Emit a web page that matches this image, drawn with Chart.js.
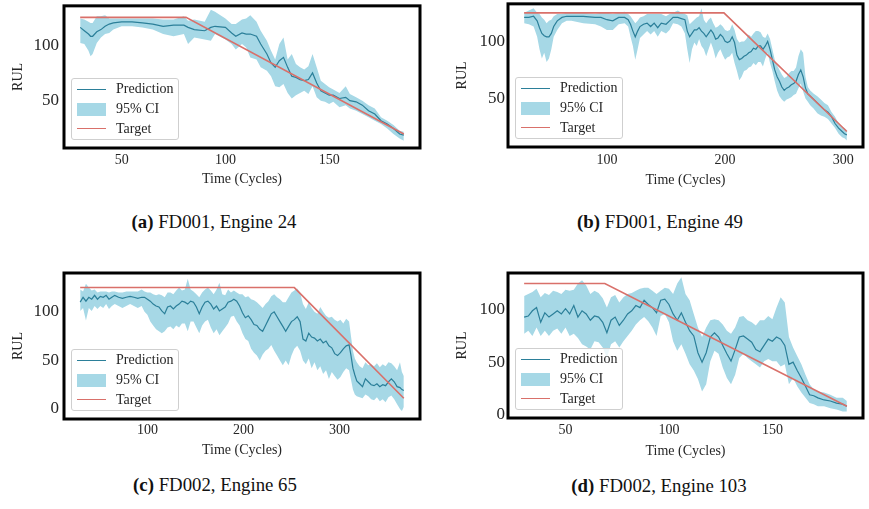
<!DOCTYPE html>
<html>
<head>
<meta charset="utf-8">
<script src="https://cdn.jsdelivr.net/npm/chart.js@4.4.1/dist/chart.umd.min.js"></script>
<style>
  html, body { margin: 0; padding: 0; background: #fff; }
  body { width: 869px; height: 509px; position: relative; overflow: hidden;
         font-family: 'Liberation Serif', 'Times New Roman', serif; color: #222; }
  .panel { position: absolute; }
  .panel canvas { position: absolute; left: 0; top: 0; }
  .caption { position: absolute; font-size: 18.8px; white-space: nowrap;
             transform: translate(-50%, -50%); color: #111; }
  .legend { position: absolute; box-sizing: border-box; width: 108px; height: 62px;
            border: 1px solid #cfcfcf; border-radius: 3px; background: rgba(255,255,255,0.8);
            font-size: 14px; color: #262626; }
  .legend .sw { position: absolute; left: 5px; width: 29px; }
  .legend .lt { position: absolute; left: 44px; line-height: 16px; white-space: nowrap; }
</style>
</head>
<body>
<script>
// ---------------- data ----------------
// (a) FD001, Engine 24
const a_t    = [30,32,34,35,36,38,40,42,44,46,50,55,60,65,70,75,80,82,85,90,93,95,100,103,105,108,110,112,115,117,120,122,124,126,128,130,132,134,136,138,140,142,144,146,148,150,152,155,158,160,163,166,169,172,175,178,181,184,186];
const a_pred = [116,113,110,108,108,112,114,117,119,120,121,121,120,119,117,118,118,116,114,113,116,117,116,111,108,111,110,110,108,101,92,84,80,86,89,80,72,71,69,68,69,75,66,59,57,55,55,52,53,50,49,46,41,38,32,29,25,20,19];
const a_hi   = [124,123,121,120,120,126,126,127,124,124,124,124,124,124,123,123,126,122,123,121,132,130,124,119,119,123,124,127,121,113,104,95,87,101,107,87,92,83,80,78,81,92,80,68,65,62,60,57,63,56,53,50,46,43,35,32,28,23,22];
const a_lo   = [102,101,95,90,92,102,107,110,111,114,117,117,116,114,110,108,110,101,107,105,104,110,105,101,96,101,98,89,87,80,77,72,63,62,65,57,52,55,57,59,56,63,53,50,49,47,49,44,46,43,41,38,35,32,29,25,20,16,14];
const a_targetT = [30, 81, 186];
const a_target  = [125, 125, 20];
const a_xTicks = [50, 100, 150];
const a_yTicks = [50, 100];

// (b) FD001, Engine 49
const b_t    = [30,34,38,41,43,45,47,49,51,53,55,58,62,66,70,80,90,95,100,105,110,115,118,120,122,124,126,128,131,134,137,140,143,146,150,153,156,160,163,166,168,170,172,174,176,178,180,182,184,186,188,190,192,194,196,198,200,202,204,206,208,210,212,214,216,218,220,222,224,226,228,230,232,234,236,238,240,242,244,246,248,250,252,254,256,258,260,262,264,266,268,270,272,275,278,281,284,287,290,293,296,299,301,303];
const b_pred = [121,121,122,118,112,107,105,104,104,107,113,118,121,122,122,122,121,121,119,118,121,121,119,115,109,104,109,113,115,116,113,116,112,116,115,118,121,121,120,119,109,104,107,110,110,112,109,107,104,107,110,107,102,103,106,104,100,99,100,104,99,88,84,85,87,88,90,91,94,93,96,96,93,96,100,93,84,75,69,65,60,57,59,60,62,63,65,71,75,69,59,54,52,49,46,43,40,38,34,28,24,21,19,18];
const b_hi   = [125,127,129,125,124,121,119,116,118,119,122,124,124,125,125,125,124,125,125,124,125,126,124,122,119,116,118,121,122,124,124,124,124,124,122,124,125,127,125,124,123,115,117,119,121,122,129,119,116,119,121,116,112,113,115,113,110,109,110,115,110,102,99,100,100,102,106,104,107,109,109,108,104,103,107,102,93,84,79,75,71,68,69,72,74,74,77,87,93,90,69,60,57,54,52,49,46,44,38,34,28,25,24,22];
const b_lo   = [116,115,113,104,93,85,90,82,85,93,104,110,116,118,118,116,115,113,110,110,115,116,113,104,96,84,93,103,106,109,106,109,104,109,107,110,116,115,113,107,93,81,93,99,96,102,96,93,87,93,99,93,85,90,93,88,84,86,87,90,81,74,66,69,74,75,77,78,81,79,82,82,78,85,90,81,74,65,57,52,49,47,49,50,51,53,54,59,63,56,50,47,44,41,37,35,34,32,28,24,19,16,15,13];
const b_targetT = [30, 199, 303];
const b_target  = [125, 125, 21];
const b_xTicks = [100, 200, 300];
const b_yTicks = [50, 100];

// (c) FD002, Engine 65
const c_t    = [30,33,36,39,42,45,48,51,54,57,60,63,66,70,74,78,82,86,90,94,97,100,103,106,109,112,115,118,121,124,127,130,133,136,139,142,145,148,151,154,157,160,163,166,169,172,175,178,181,184,187,190,193,196,199,202,205,208,211,214,217,220,223,226,229,232,235,238,241,244,247,250,253,256,259,262,265,268,271,274,277,280,283,286,289,292,295,298,301,304,307,310,312,314,316,318,321,324,327,330,333,336,339,342,345,348,351,354,357,360,363,365,367];
const c_pred = [110,115,111,115,113,117,113,116,115,117, 113,115,117,115,114,115,116,115,114,115, 115,113,111,108,106,105,101,98,105,106, 103,106,108,111,110,108,111,110,105,98, 105,110,111,108,103,106,101,103,105,110, 111,113,111,106,99,94,96,92,87,86, 82,80,86,92,98,100,95,90,85,80, 85,90,92,95,90,72,70,78,74,73, 70,72,68,70,65,63,57,55,58,62, 65,66,55,42,35,29,26,23,31,28, 25,24,26,23,25,24,28,31,28,23, 22,20,19];
const c_hi   = [123,121,129,125,122,123,120,121,121,121, 120,121,121,120,120,121,121,121,121,123, 121,120,120,118,117,118,117,115,120,120, 118,122,125,122,123,134,123,121,118,115, 120,123,125,122,118,123,130,118,117,123, 120,122,120,118,118,115,116,113,112,110, 107,104,108,111,116,118,115,113,110,110, 115,120,122,124,120,108,103,110,104,100, 98,105,100,96,94,95,92,90,92,88, 93,90,75,60,52,48,44,42,48,45, 46,44,47,43,46,44,48,47,44,40, 48,38,34];
const c_lo   = [101,104,91,104,101,106,103,106,104,108, 103,106,108,106,104,106,108,106,104,106, 100,97,90,86,82,80,78,80,84,85, 82,86,84,88,88,80,90,90,84,78, 86,90,92,84,78,82,76,80,84,88, 95,96,90,86,78,72,70,62,58,55, 50,56,60,62,66,60,55,50,45,50, 45,55,62,65,60,50,46,52,42,48, 40,44,36,40,31,38,34,30,33,38, 42,40,30,20,15,13,12,11,15,13, 10,9,12,8,10,7,12,14,10,5, 0,-2,2];
const c_targetT = [30, 253, 367];
const c_target  = [125, 125, 11];
const c_xTicks = [100, 200, 300];
const c_yTicks = [0, 50, 100];

// (d) FD002, Engine 103
const d_t    = [30,32,34,36,38,40,42,44,46,48,50,52,54,56,58,60,62,64,66,68,70,72,74,76,78,80,82,84,86,88,90,92,94,96,98,100,102,104,106,108,110,112,114,116,118,120,122,124,126,128,130,132,134,136,138,140,142,144,146,148,150,152,154,156,158,160,162,164,166,168,170,172,175,178,181,184,186];
const d_pred = [93,94,99,102,88,97,93,96,99,96,101,96,104,93,99,96,90,94,93,88,78,90,93,85,90,96,99,104,102,109,105,102,97,109,110,105,96,90,97,88,80,75,59,50,59,74,78,74,66,58,51,62,74,75,72,69,62,60,66,72,70,74,72,66,48,50,42,35,27,19,18,16,14,13,11,10,8];
const d_hi   = [113,115,117,120,112,116,114,118,117,115,119,118,119,125,128,123,115,118,116,111,102,112,114,107,112,115,116,118,120,121,121,118,115,118,121,120,115,125,131,115,109,96,83,74,83,90,91,90,86,80,77,83,93,94,90,88,85,90,90,94,91,102,112,107,74,64,56,48,38,29,24,22,21,19,16,16,13];
const d_lo   = [77,80,75,83,75,80,75,80,82,77,83,75,77,73,67,65,62,70,69,64,54,67,70,64,70,75,80,86,90,93,89,83,75,94,96,88,70,61,67,58,48,42,34,22,29,51,61,58,45,35,29,38,54,58,54,51,48,45,51,53,51,51,46,48,29,35,27,21,16,11,10,8,8,6,5,3,3];
const d_targetT = [30, 69, 186];
const d_target  = [125, 125, 8];
const d_xTicks = [50, 100, 150];
const d_yTicks = [0, 50, 100];

// ---------------- styles ----------------
const FONT = "'Liberation Serif', 'Times New Roman', serif";
const COL_PRED = '#2b7f99';
const COL_CI = '#a6d8e6';
const COL_TGT = '#d9706a';
const TXT = '#262626';

const framePlugin = {
  id: 'frame',
  afterDatasetsDraw(chart) {
    const { ctx, chartArea: a } = chart;
    ctx.save();
    ctx.strokeStyle = '#000';
    ctx.lineWidth = 3;
    ctx.strokeRect(a.left, a.top, a.right - a.left, a.bottom - a.top);
    ctx.restore();
  }
};

function pts(xs, ys) { return xs.map((x, i) => ({ x: x, y: ys[i] })); }
function fixedTicks(vals) { return (s) => { s.ticks = vals.map(v => ({ value: v })); }; }

function makePanel(p) {
  const div = document.createElement('div');
  div.className = 'panel';
  div.style.left = p.left + 'px';
  div.style.top = p.top + 'px';
  div.style.width = p.w + 'px';
  div.style.height = p.h + 'px';
  const cv = document.createElement('canvas');
  cv.width = p.w; cv.height = p.h;
  cv.style.width = p.w + 'px'; cv.style.height = p.h + 'px';
  div.appendChild(cv);
  document.body.appendChild(div);

  const chart = new Chart(cv.getContext('2d'), {
    type: 'line',
    data: {
      datasets: [
        { label: 'Target', data: pts(p.tt, p.tv), borderColor: COL_TGT, borderWidth: 1.6,
          pointRadius: 0, fill: false, tension: 0 },
        { label: 'Prediction', data: pts(p.t, p.pred), borderColor: COL_PRED, borderWidth: 1.2,
          pointRadius: 0, fill: false, tension: 0 },
        { label: '95% CI', data: pts(p.t, p.hi), borderColor: 'rgba(0,0,0,0)', borderWidth: 0.5,
          backgroundColor: COL_CI, pointRadius: 0, fill: '+1', tension: 0 },
        { label: 'CI lower', data: pts(p.t, p.lo), borderColor: 'rgba(0,0,0,0)', borderWidth: 0.5,
          pointRadius: 0, fill: false, tension: 0 }
      ]
    },
    options: {
      responsive: false,
      animation: false,
      events: [],
      layout: { padding: { top: p.padTop, right: p.padRight, left: 0, bottom: 0 } },
      plugins: { legend: { display: false }, tooltip: { enabled: false } },
      scales: {
        x: {
          type: 'linear', min: p.xmin, max: p.xmax,
          grid: { display: false, drawTicks: false }, border: { display: false },
          afterBuildTicks: fixedTicks(p.xTicks),
          ticks: { padding: p.xTickPad, maxRotation: 0, autoSkip: false,
                   color: TXT, font: { family: FONT, size: 14 } },
          title: { display: true, text: 'Time (Cycles)', color: TXT, font: { family: FONT, size: 14 },
                   padding: { top: 0, bottom: p.xTitlePb } },
          afterFit: (s) => { s.height = p.xH; }
        },
        y: {
          type: 'linear', min: p.ymin, max: p.ymax,
          grid: { display: false, drawTicks: false }, border: { display: false },
          afterBuildTicks: fixedTicks(p.yTicks),
          ticks: { padding: p.yTickPad, autoSkip: false,
                   color: TXT, font: { family: FONT, size: 17, lineHeight: 0.1 } },
          title: { display: true, text: 'RUL', color: TXT, font: { family: FONT, size: 14 },
                   padding: { top: p.yTitlePt, bottom: 0 } },
          afterFit: (s) => { s.width = p.yW; }
        }
      }
    },
    plugins: [framePlugin]
  });

  // legend (matplotlib style, lower left inside the axes)
  const ca = chart.chartArea;
  const lg = document.createElement('div');
  lg.className = 'legend';
  lg.style.left = (p.left + ca.left + 7) + 'px';
  lg.style.top = (p.top + ca.bottom - 8 - 62) + 'px';
  lg.innerHTML =
    '<div class="sw" style="top:9.5px;height:1.5px;background:' + COL_PRED + '"></div>' +
    '<div class="lt" style="top:2px">Prediction</div>' +
    '<div class="sw" style="top:23.5px;height:13px;background:' + COL_CI + '"></div>' +
    '<div class="lt" style="top:22px">95% CI</div>' +
    '<div class="sw" style="top:48.5px;height:1.6px;background:' + COL_TGT + '"></div>' +
    '<div class="lt" style="top:41.5px">Target</div>';
  document.body.appendChild(lg);

  const cap = document.createElement('div');
  cap.className = 'caption';
  cap.style.left = p.capX + 'px';
  cap.style.top = p.capY + 'px';
  cap.innerHTML = '<b>' + p.capTag + '</b> ' + p.capText;
  document.body.appendChild(cap);
}

makePanel({ left: 0, top: 0, w: 435, h: 200, t: a_t, pred: a_pred, hi: a_hi, lo: a_lo,
  tt: a_targetT, tv: a_target, xmin: 22.2, xmax: 193.8, ymin: 7.4, ymax: 135.4,
  xTicks: a_xTicks, yTicks: a_yTicks,
  padTop: 3, padRight: 15, yW: 64, xH: 52, xTickPad: 4, xTitlePb: 12.6, yTickPad: 5, yTitlePt: 10,
  capX: 214, capY: 222, capTag: '(a)', capText: 'FD001, Engine 24' });

makePanel({ left: 435, top: 0, w: 434, h: 200, t: b_t, pred: b_pred, hi: b_hi, lo: b_lo,
  tt: b_targetT, tv: b_target, xmin: 16.35, xmax: 316.65, ymin: 7.4, ymax: 132.9,
  xTicks: b_xTicks, yTicks: b_yTicks,
  padTop: 3, padRight: 6, yW: 73, xH: 53, xTickPad: 5, xTitlePb: 11.6, yTickPad: 3, yTitlePt: 19,
  capX: 660, capY: 222, capTag: '(b)', capText: 'FD001, Engine 49' });

makePanel({ left: 0, top: 265, w: 435, h: 200, t: c_t, pred: c_pred, hi: c_hi, lo: c_lo,
  tt: c_targetT, tv: c_target, xmin: 13.15, xmax: 383.85, ymin: -10.3, ymax: 140,
  xTicks: c_xTicks, yTicks: c_yTicks,
  padTop: 8, padRight: 15, yW: 64, xH: 46, xTickPad: 3, xTitlePb: 6.6, yTickPad: 5, yTitlePt: 10,
  capX: 215, capY: 485, capTag: '(c)', capText: 'FD002, Engine 65' });

makePanel({ left: 435, top: 265, w: 434, h: 200, t: d_t, pred: d_pred, hi: d_hi, lo: d_lo,
  tt: d_targetT, tv: d_target, xmin: 22.2, xmax: 193.8, ymin: -3.2, ymax: 135,
  xTicks: d_xTicks, yTicks: d_yTicks,
  padTop: 8, padRight: 6, yW: 73, xH: 47, xTickPad: 4, xTitlePb: 5.6, yTickPad: 3, yTitlePt: 19,
  capX: 659, capY: 486, capTag: '(d)', capText: 'FD002, Engine 103' });
</script>
</body>
</html>
